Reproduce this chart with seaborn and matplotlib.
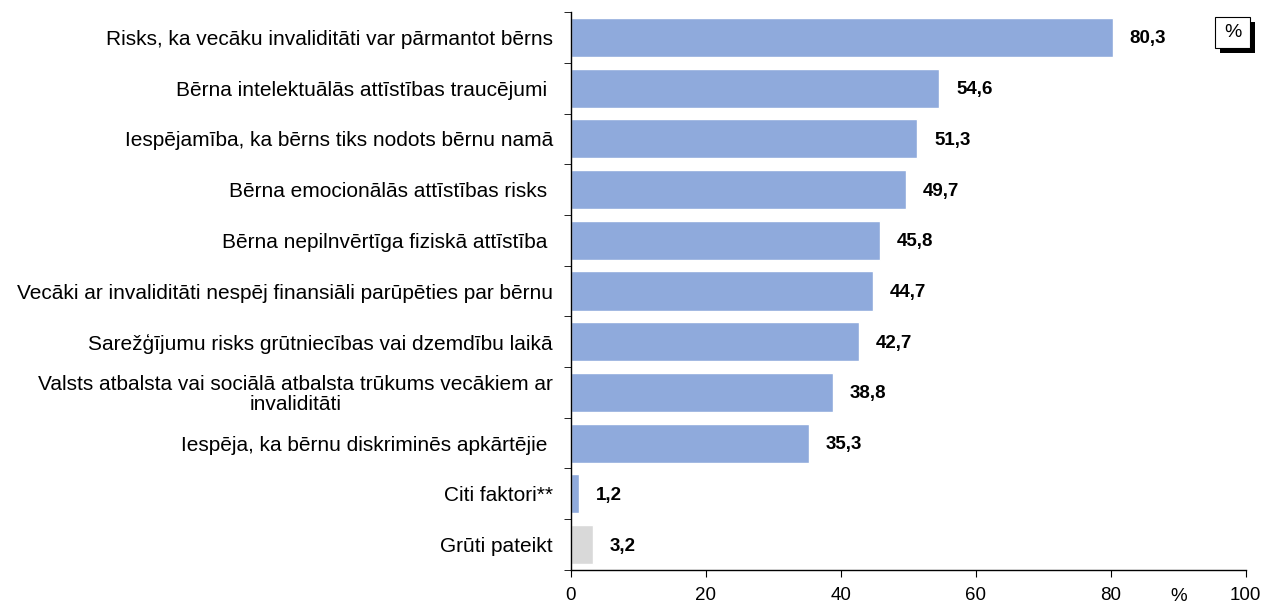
import numpy as np
import pandas as pd
import matplotlib
matplotlib.use('Agg')
import matplotlib.pyplot as plt
import seaborn as sns
from matplotlib.ticker import FixedLocator

categories = [
    'Risks, ka vecāku invaliditāti var pārmantot bērns',
    'Bērna intelektuālās attīstības traucējumi ',
    'Iespējamība, ka bērns tiks nodots bērnu namā',
    'Bērna emocionālās attīstības risks ',
    'Bērna nepilnvērtīga fiziskā attīstība ',
    'Vecāki ar invaliditāti nespēj finansiāli parūpēties par bērnu',
    'Sarežģījumu risks grūtniecības vai dzemdību laikā',
    'Valsts atbalsta vai sociālā atbalsta trūkums vecākiem ar\ninvaliditāti',
    'Iespēja, ka bērnu diskriminēs apkārtējie ',
    'Citi faktori**',
    'Grūti pateikt',
]
values = [80.3, 54.6, 51.3, 49.7, 45.8, 44.7, 42.7, 38.8, 35.3, 1.2, 3.2]
labels = ['80,3', '54,6', '51,3', '49,7', '45,8', '44,7', '42,7', '38,8', '35,3', '1,2', '3,2']
colors = ['#8FAADC'] * 10 + ['#D9D9D9']

sns.set_style('white')
plt.rcParams['font.family'] = ['Liberation Sans', 'DejaVu Sans']
plt.rcParams['text.color'] = 'black'
plt.rcParams['xtick.color'] = 'black'
plt.rcParams['ytick.color'] = 'black'

df = pd.DataFrame({'category': categories, 'value': values})

fig = plt.figure(figsize=(12.66, 6.05), dpi=100)
ax = fig.add_axes([0.451, 0.058, 0.533, 0.922])

sns.barplot(data=df, x='value', y='category', hue='category', palette=colors,
            legend=False, width=0.77, ax=ax, saturation=1)

for i, (v, t) in enumerate(zip(values, labels)):
    ax.text(v + 2.5, i + 0.03, t, va='center', ha='left', fontsize=13.5, fontweight='bold')

ax.set_xlim(0, 100)
ax.set_ylim(len(categories) - 0.5, -0.5)
ax.set_xticks([0, 20, 40, 60, 80, 100])
ax.tick_params(axis='x', labelsize=13.5, length=5, direction='out', bottom=True, pad=7)
ax.tick_params(axis='y', which='major', length=0, labelsize=15, pad=13)
ax.yaxis.set_minor_locator(FixedLocator(np.arange(-0.5, len(categories), 1)))
ax.tick_params(axis='y', which='minor', length=5, left=True, direction='out')
for lbl in ax.get_yticklabels():
    lbl.set_multialignment('center')
    lbl.set_linespacing(1.05)

ax.set_xlabel('')
ax.set_ylabel('')
for s in ['top', 'right']:
    ax.spines[s].set_visible(False)
for s in ['left', 'bottom']:
    ax.spines[s].set_color('black')
    ax.spines[s].set_linewidth(1)

ax.text(90, -0.048, '%', transform=ax.get_xaxis_transform(), ha='center', va='center', fontsize=13.5)

# boxed % label with shadow
fig.patches.append(plt.Rectangle((0.9637, 0.9124), 0.02765, 0.0512, transform=fig.transFigure,
                                 facecolor='black', edgecolor='none', zorder=0))
fig.patches.append(plt.Rectangle((0.9597, 0.9207), 0.02765, 0.0512, transform=fig.transFigure,
                                 facecolor='white', edgecolor='black', linewidth=0.8, zorder=1))
fig.text(0.9735, 0.9463, '%', ha='center', va='center', fontsize=14, zorder=2)

fig.savefig('out.png', dpi=100)
